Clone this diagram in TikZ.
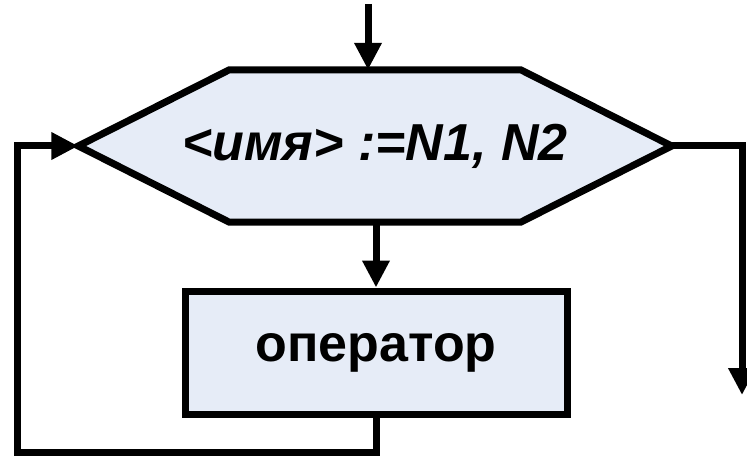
\documentclass[tikz,border=0pt]{standalone}
\usepackage{fontspec}
\setmainfont{Liberation Sans}
\usetikzlibrary{arrows.meta,backgrounds}

\definecolor{boxfill}{RGB}{230,236,247}

\tikzset{
	block/.style={draw,line width=7pt,fill=boxfill,inner sep=0pt,
		font=\fontsize{52}{56}\selectfont\bfseries},
	arr/.style={line width=7pt,-{Triangle[length=27pt,width=26pt]}}
}

\begin{document}
\begin{tikzpicture}[x=1pt,y=1pt]
	\useasboundingbox (0,0) rectangle (747,-457);

	% loop head
	\node[inner sep=0pt,minimum width=593pt,minimum height=152pt,
		font=\fontsize{52}{56}\selectfont\bfseries\itshape] (head) at (375,-146)
		{<имя> :=N1, N2};
	\begin{scope}[on background layer]
		\draw[line width=7pt,fill=boxfill,line join=miter]
			(head.west) -- ([xshift=151pt]head.north west) -- ([xshift=-151pt]head.north east)
			-- (head.east) -- ([xshift=-151pt]head.south east) -- ([xshift=151pt]head.south west)
			-- cycle;
	\end{scope}

	% loop body
	\node[block,minimum width=382pt,minimum height=123pt] (body) at (376,-352.5) {оператор};

	\coordinate (start) at (368,-4);
	\coordinate (back) at (17,-452);
	\coordinate (exit) at (742,-395);

	\draw[arr] (start) -- (start |- head.north);
	\draw[arr] (head.south -| body.north) -- (body.north);
	\draw[arr] (body.south) |- (back) |- (head.west);
	\draw[arr] (head.east) -| (exit);
\end{tikzpicture}
\end{document}
